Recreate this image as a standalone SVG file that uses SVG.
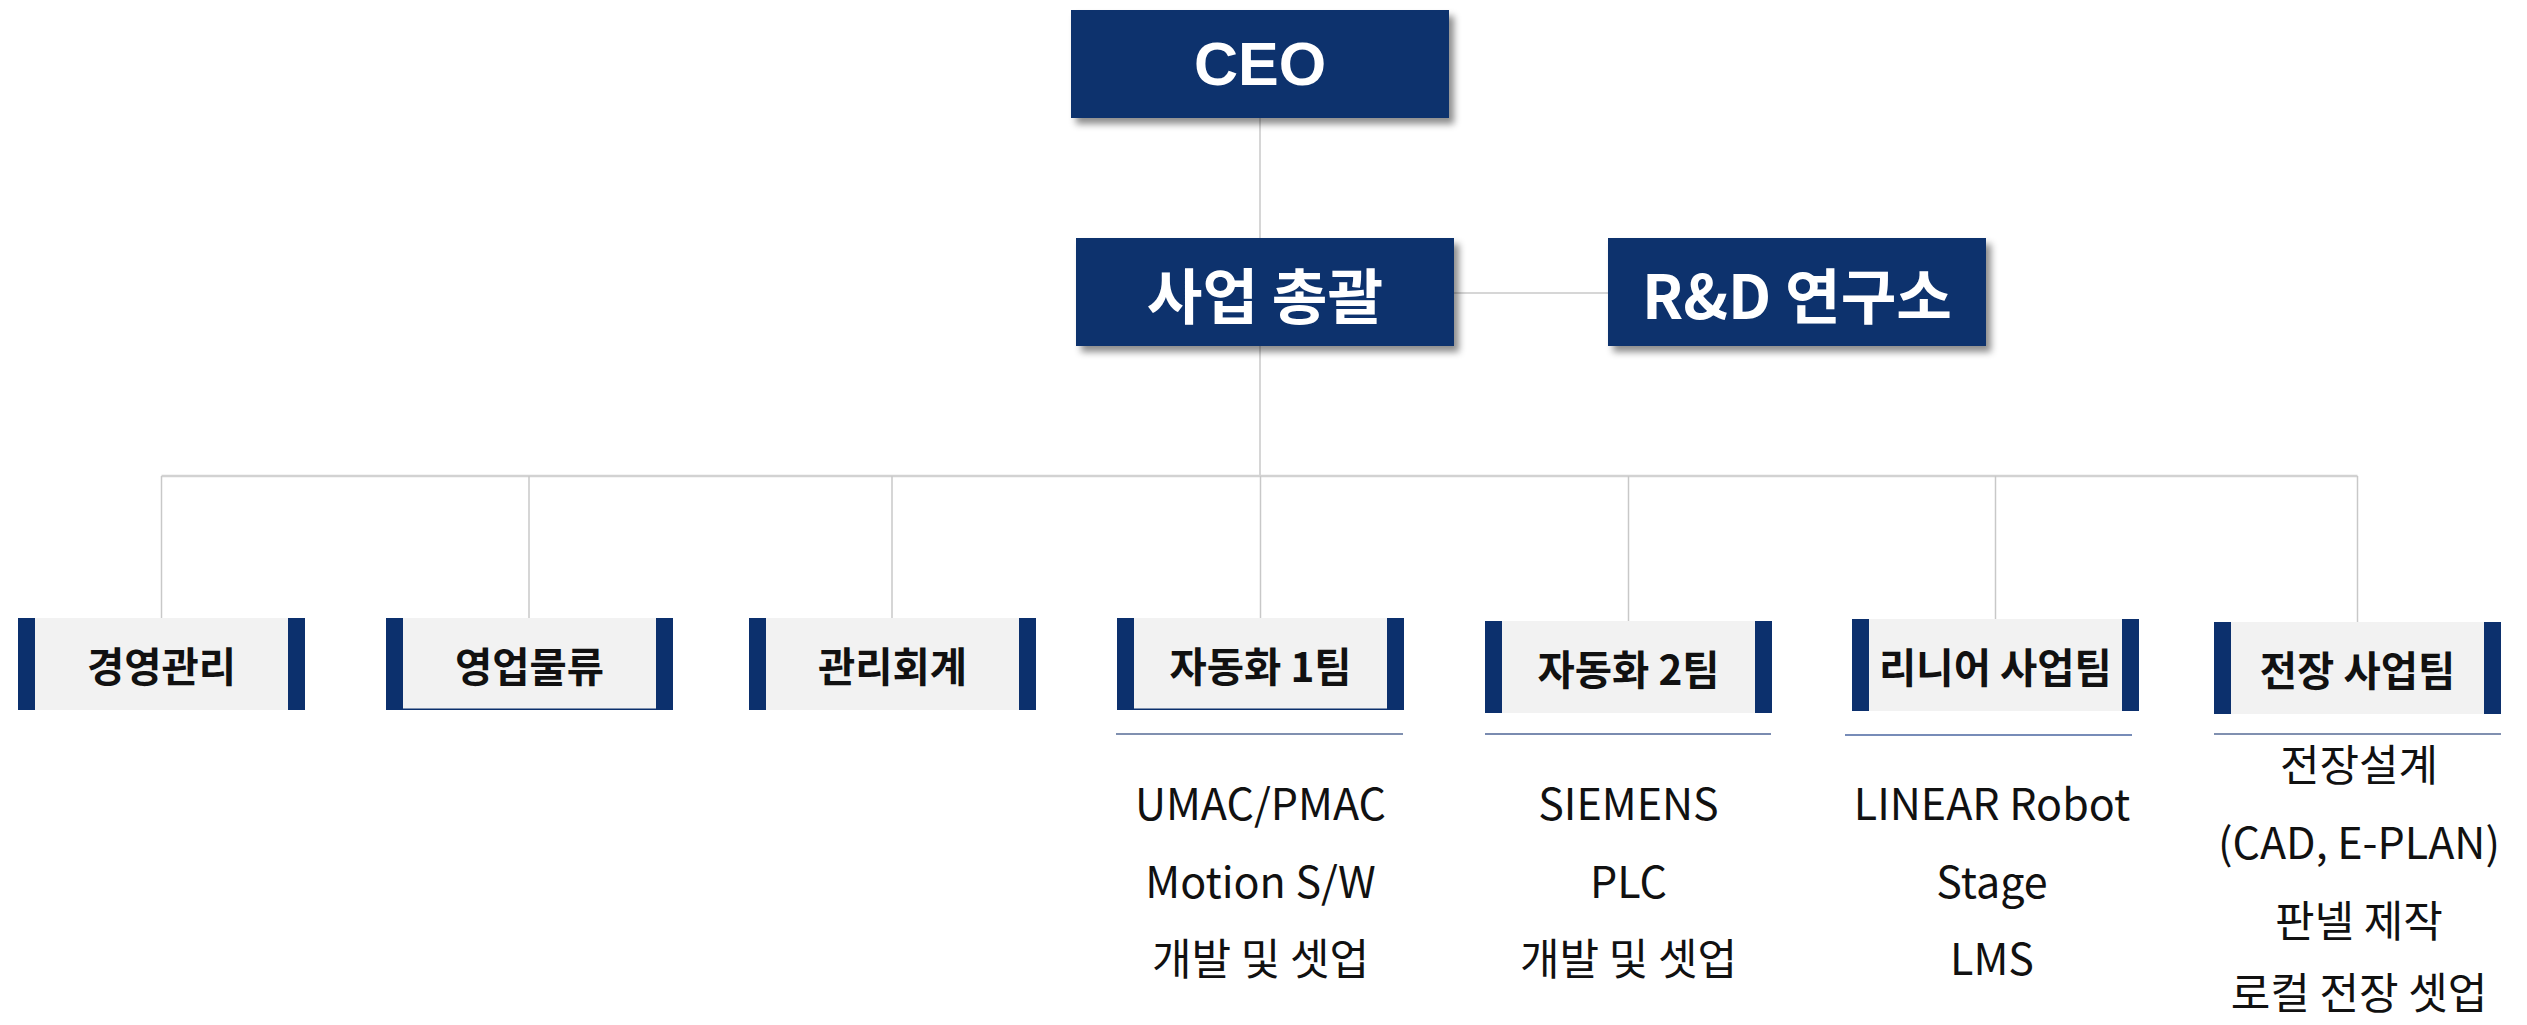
<svg xmlns="http://www.w3.org/2000/svg" width="2527" height="1025" viewBox="0 0 2527 1025">
<defs>
<filter id="sh" x="-10%" y="-20%" width="125%" height="150%">
<feDropShadow dx="5" dy="6" stdDeviation="3.5" flood-color="#000" flood-opacity="0.45"/>
</filter>
<style>
.top{fill:#0c306d;filter:url(#sh)}
.tt{fill:#fff;font-family:"Noto Sans CJK KR","Noto Sans",sans-serif;font-weight:700;font-size:60.5px;text-anchor:middle;dominant-baseline:central}
.ceo{fill:#fff;font-family:"Liberation Sans",Arial,sans-serif;font-weight:700;font-size:61px;text-anchor:middle;dominant-baseline:central}
.bx{fill:#f2f2f2}
.bar{fill:#0c306d}
.bt{fill:#111;font-family:"Noto Sans CJK KR","Noto Sans",sans-serif;font-weight:700;font-size:40.5px;text-anchor:middle;dominant-baseline:central}
.st{fill:#111;font-family:"Noto Sans CJK KR","Noto Sans",sans-serif;font-weight:400;font-size:43px;text-anchor:middle;dominant-baseline:central}
.con line{stroke:#c8c8c8;stroke-width:1.5;fill:none}
.ul{stroke:#8090b0;stroke-width:2}
</style>
</defs>
<rect width="2527" height="1025" fill="#fff"/>
<g id="connectors" class="con">
<line x1="1260" y1="118" x2="1260" y2="238"/>
<line x1="1260" y1="346" x2="1260" y2="476"/>
<line x1="1454" y1="293" x2="1608" y2="293"/>
<line x1="161.5" y1="476" x2="2357.5" y2="476" style="stroke:#d2d2d2;stroke-width:2.5"/>
<line x1="161.5" y1="476" x2="161.5" y2="618"/>
<line x1="529" y1="476" x2="529" y2="618"/>
<line x1="892" y1="476" x2="892" y2="618"/>
<line x1="1260.5" y1="476" x2="1260.5" y2="618"/>
<line x1="1628.5" y1="476" x2="1628.5" y2="621"/>
<line x1="1995.5" y1="476" x2="1995.5" y2="619"/>
<line x1="2357.5" y1="476" x2="2357.5" y2="622"/>
</g>
<g id="ceo">
<rect class="top" x="1071" y="10" width="378" height="108"/>
<text class="ceo" x="1260" y="64">CEO</text>
</g>
<g id="biz">
<rect class="top" x="1076" y="238" width="378" height="108"/>
<text class="tt" x="1265" y="292">사업 총괄</text>
</g>
<g id="rnd">
<rect class="top" x="1608" y="238" width="378" height="108"/>
<text class="tt" x="1797" y="292">R&amp;D 연구소</text>
</g>
<g id="mgmt">
<rect class="bx" x="18" y="618" width="287" height="92"/>
<rect class="bar" x="18" y="618" width="17" height="92"/>
<rect class="bar" x="288" y="618" width="17" height="92"/>
<text class="bt" x="161.5" y="664">경영관리</text>
</g>
<g id="sales">
<rect class="bx" x="386" y="618" width="287" height="92"/>
<rect class="bar" x="386" y="708.5" width="287" height="1.5"/>
<rect class="bar" x="386" y="618" width="17" height="92"/>
<rect class="bar" x="656" y="618" width="17" height="92"/>
<text class="bt" x="529.5" y="664">영업물류</text>
</g>
<g id="acct">
<rect class="bx" x="749" y="618" width="287" height="92"/>
<rect class="bar" x="749" y="618" width="17" height="92"/>
<rect class="bar" x="1019" y="618" width="17" height="92"/>
<text class="bt" x="892.5" y="664">관리회계</text>
</g>
<g id="auto1">
<rect class="bx" x="1117" y="618" width="287" height="92"/>
<rect class="bar" x="1117" y="708.5" width="287" height="1.5"/>
<rect class="bar" x="1117" y="618" width="17" height="92"/>
<rect class="bar" x="1387" y="618" width="17" height="92"/>
<text class="bt" x="1260.5" y="664">자동화 1팀</text>
<line class="ul" x1="1116" y1="734" x2="1403" y2="734"/>
<text class="st" x="1260.5" y="801">UMAC/PMAC</text>
<text class="st" x="1260.5" y="879">Motion S/W</text>
<text class="st" x="1260.5" y="956">개발 및 셋업</text>
</g>
<g id="auto2">
<rect class="bx" x="1485" y="621" width="287" height="92"/>
<rect class="bar" x="1485" y="621" width="17" height="92"/>
<rect class="bar" x="1755" y="621" width="17" height="92"/>
<text class="bt" x="1628.5" y="667">자동화 2팀</text>
<line class="ul" x1="1485" y1="734" x2="1771" y2="734" style="stroke:#4e6496;stroke-width:1.5"/>
<text class="st" x="1628.5" y="801">SIEMENS</text>
<text class="st" x="1628.5" y="879">PLC</text>
<text class="st" x="1628.5" y="956">개발 및 셋업</text>
</g>
<g id="linear">
<rect class="bx" x="1852" y="619" width="287" height="92"/>
<rect class="bar" x="1852" y="619" width="17" height="92"/>
<rect class="bar" x="2122" y="619" width="17" height="92"/>
<text class="bt" x="1995.5" y="665">리니어 사업팀</text>
<line class="ul" x1="1845" y1="735" x2="2132" y2="735" style="stroke:#4a66a0;stroke-width:1.5"/>
<text class="st" x="1992" y="801">LINEAR Robot</text>
<text class="st" x="1992" y="879">Stage</text>
<text class="st" x="1992" y="956">LMS</text>
</g>
<g id="elec">
<rect class="bx" x="2214" y="622" width="287" height="92"/>
<rect class="bar" x="2214" y="622" width="17" height="92"/>
<rect class="bar" x="2484" y="622" width="17" height="92"/>
<text class="bt" x="2357.5" y="668">전장 사업팀</text>
<line class="ul" x1="2214" y1="734" x2="2501" y2="734"/>
<text class="st" x="2359" y="762">전장설계</text>
<text class="st" x="2359" y="840">(CAD, E-PLAN)</text>
<text class="st" x="2359" y="918">판넬 제작</text>
<text class="st" x="2359" y="990">로컬 전장 셋업</text>
</g>
</svg>
